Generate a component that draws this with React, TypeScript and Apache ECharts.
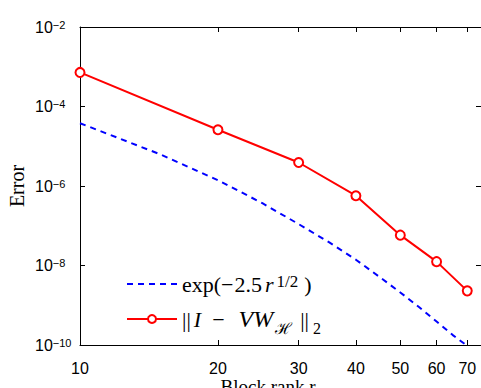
import React, { useEffect, useRef } from "react";
import * as echarts from "echarts";

const ranks = [10, 20, 30, 40, 50, 60, 70];
const errorValues = [7.2e-4, 2.6e-5, 3.9e-6, 5.7e-7, 5.8e-8, 1.25e-8, 2.3e-9];
const boundRanks = [10, 15, 20, 25, 30, 35, 40, 45, 50, 55, 60, 65, 70];
const boundValues = [3.8e-5, 6.2e-6, 1.4e-6, 3.7e-7, 1.1e-7, 3.8e-8, 1.4e-8, 5.2e-9, 2.1e-9, 8.9e-10, 3.9e-10, 1.8e-10, 9.5e-11];
const xTicks = [10, 20, 30, 40, 50, 60, 70];
const yTicks = [1e-10, 1e-8, 1e-6, 1e-4, 1e-2];
const boundName = "exp(−2.5 r^{1/2})";
const errorName = "‖I − VW_ℋ‖₂";

export default function App() {
  const ref = useRef<HTMLDivElement>(null);
  useEffect(() => {
    if (!ref.current) return;
    const chart = echarts.init(ref.current, null, { renderer: "svg" });
    const sans = "Liberation Sans, Arial, sans-serif";
    const serif = "Liberation Serif, Times New Roman, serif";
    const axisCommon = {
      axisLine: { show: true, lineStyle: { color: "#000", width: 1 } },
      axisTick: { show: true, inside: true, length: 5, lineStyle: { color: "#000", width: 1 } },
      splitLine: { show: false },
      minorTick: { show: false },
    };
    const r1 = { fontFamily: serif, fontSize: 22, lineHeight: 22, verticalAlign: "bottom", color: "#000" };
    const r2 = { fontFamily: serif, fontSize: 22, lineHeight: 34, verticalAlign: "middle", color: "#000" };
    const option: any = {
      animation: false,
      backgroundColor: "#fff",
      grid: { left: 80, top: 27, width: 401, height: 318, containLabel: false, outerBoundsMode: "none" },
      xAxis: [
        {
          type: "log",
          min: 10,
          max: 75,
          position: "bottom",
          ...axisCommon,
          axisTick: { ...axisCommon.axisTick, customValues: xTicks },
          axisLabel: {
            customValues: xTicks,
            color: "#000",
            fontFamily: sans,
            fontSize: 16,
            lineHeight: 14,
            margin: 16,
            formatter: (v: number) => String(Math.round(v)),
          },
          name: "Block rank r",
          nameLocation: "middle",
          nameGap: 34,
          nameMoveOverlap: false,
          nameTextStyle: { fontFamily: serif, fontSize: 19, lineHeight: 14, color: "#000", padding: [0, 25, 0, 0] },
        },
        {
          type: "log",
          min: 10,
          max: 75,
          position: "top",
          ...axisCommon,
          axisTick: { ...axisCommon.axisTick, customValues: xTicks },
          axisLabel: { show: false, customValues: xTicks },
        },
      ],
      yAxis: [
        {
          type: "log",
          min: 1e-10,
          max: 1e-2,
          position: "left",
          ...axisCommon,
          axisTick: { ...axisCommon.axisTick, customValues: yTicks },
          axisLabel: {
            customValues: yTicks,
            color: "#000",
            fontFamily: sans,
            align: "left",
            margin: 45,
            formatter: (v: number) => `{b|10}{s|−${Math.abs(Math.round(Math.log10(v)))}}`,
            rich: {
              b: { fontFamily: sans, fontSize: 16, lineHeight: 16, verticalAlign: "bottom", color: "#000" },
              s: { fontFamily: sans, fontSize: 11, lineHeight: 11, verticalAlign: "top", padding: [0, 0, 12, 0], color: "#000" },
            },
          },
          name: "Error",
          nameLocation: "middle",
          nameGap: 53,
          nameRotate: 90,
          nameMoveOverlap: false,
          nameTextStyle: { fontFamily: serif, fontSize: 20, color: "#000" },
        },
        {
          type: "log",
          min: 1e-10,
          max: 1e-2,
          position: "right",
          ...axisCommon,
          axisTick: { ...axisCommon.axisTick, customValues: yTicks },
          axisLabel: { show: false, customValues: yTicks },
        },
      ],
      legend: {
        left: 126,
        top: 273,
        padding: 0,
        orient: "vertical",
        itemWidth: 50,
        itemHeight: 10,
        itemGap: 6,
        data: [{ name: boundName, itemStyle: { opacity: 0 } }, errorName],
        formatter: (name: string) =>
          name === boundName
            ? "{a|exp(}{m|−}{a|2.5}{i|r}{sup|1/2}{p|)}"
            : "{bar|||}{i2|I}{m2|−}{vw|VW}{sub|ℋ}{bar2|||}{sub2|2}",
        textStyle: {
          fontFamily: serif,
          fontSize: 22,
          color: "#000",
          rich: {
            a: { ...r1 },
            m: { ...r1, padding: [0, 1, 0, 0] },
            i: { ...r1, fontStyle: "italic", padding: [0, 0, 0, 3] },
            sup: { fontFamily: serif, fontSize: 17, lineHeight: 13, verticalAlign: "top", padding: [0, 4, 11, 3], color: "#000" },
            p: { ...r1, padding: [0, 0, 0, 2] },
            bar: { ...r2, padding: [0, 2, 0, 0] },
            i2: { ...r2, fontStyle: "italic", padding: [0, 3, 0, 1] },
            m2: { ...r2, padding: [0, 8, 0, 8] },
            vw: { ...r2, fontStyle: "italic", fontSize: 24, padding: [0, 0, 0, 6] },
            bar2: { ...r2, padding: [0, 2, 0, 6] },
            sub: { fontFamily: "DejaVu Serif, serif", fontSize: 16, lineHeight: 26, verticalAlign: "bottom", padding: [0, 2, 0, 2], color: "#000" },
            sub2: { fontFamily: serif, fontSize: 16, lineHeight: 20, verticalAlign: "bottom", padding: [0, 0, 0, 2], color: "#000" },
          },
        },
      },
      series: [
        {
          name: boundName,
          type: "line",
          xAxisIndex: 0,
          yAxisIndex: 0,
          data: boundRanks.map((r, i) => [r, boundValues[i]]),
          symbol: "none",
          lineStyle: { color: "#0000ff", width: 2, type: [6, 5] },
          itemStyle: { color: "#0000ff" },
          z: 2,
        },
        {
          name: errorName,
          type: "line",
          xAxisIndex: 0,
          yAxisIndex: 0,
          data: ranks.map((r, i) => [r, errorValues[i]]),
          symbol: "emptyCircle",
          symbolSize: 9,
          showSymbol: true,
          lineStyle: { color: "#ff0000", width: 2 },
          itemStyle: { color: "#ff0000", borderColor: "#ff0000", borderWidth: 1.6 },
          z: 3,
        },
      ],
    };
    chart.setOption(option);
    return () => chart.dispose();
  }, []);
  return (
    <div
      ref={ref}
      style={{ position: "fixed", left: 0, top: 0, width: 481, height: 388, background: "#fff" }}
    />
  );
}
